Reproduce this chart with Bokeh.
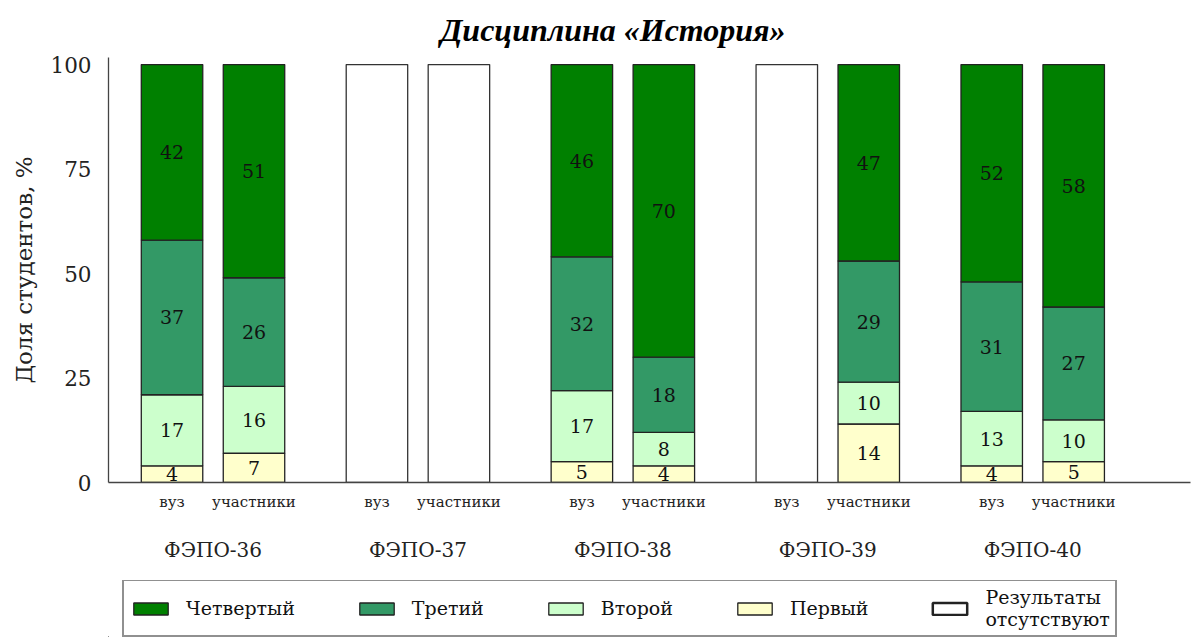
from bokeh.plotting import figure
from bokeh.layouts import column
from bokeh.models import ColumnDataSource, FixedTicker, LinearAxis, Range1d, Legend, LegendItem
from bokeh.core.properties import value
from bokeh.embed import file_html
from bokeh.resources import INLINE

chart_title = "Дисциплина «История»"
y_label = "Доля студентов, %"
groups = ["ФЭПО-36", "ФЭПО-37", "ФЭПО-38", "ФЭПО-39", "ФЭПО-40"]
subs = ["вуз", "участники"]
series_names = ["Первый", "Второй", "Третий", "Четвертый"]
first = [4, 7, None, None, 5, 4, None, 14, 4, 5]
second = [17, 16, None, None, 17, 8, None, 10, 13, 10]
third = [37, 26, None, None, 32, 18, None, 29, 31, 27]
fourth = [42, 51, None, None, 46, 70, None, 47, 52, 58]
missing_label = "Результаты\nотсутствуют"
missing_total = 100
yticks = [0, 25, 50, 75, 100]

colors = ["#ffffcc", "#ccffcc", "#339966", "#008000"]
series = [first, second, third, fourth]

SERIF = "DejaVu Serif"

# bar centre positions (2 units apart inside a group, groups 5 units apart)
xs = [5 * g + (2 * s - 1) for g in range(len(groups)) for s in range(len(subs))]
sub_labels = [subs[s] for g in range(len(groups)) for s in range(len(subs))]

p = figure(frame_width=1082, frame_height=425, output_backend="svg", toolbar_location=None,
           x_range=Range1d(-2.55, 23.85), y_range=Range1d(0, 101.7),
           min_border_left=108, min_border_right=3, min_border_top=57, min_border_bottom=98)
p.xaxis.visible = False
p.xgrid.visible = False
p.ygrid.visible = False
p.outline_line_color = None
p.background_fill_color = "white"

p.title.text = chart_title
p.title.align = "left"
p.title.offset = 332
p.title.text_font = "Liberation Serif"
p.title.text_font_style = "bold italic"
p.title.text_font_size = "32px"
p.title.text_color = "#000000"
p.title.standoff = 19

# y axis
ya = p.yaxis[0]
ya.ticker = FixedTicker(ticks=yticks)
ya.axis_label = y_label
ya.axis_label_text_font = SERIF
ya.axis_label_text_font_style = "normal"
ya.axis_label_text_font_size = "23px"
ya.axis_label_text_color = "#222222"
ya.axis_label_standoff = 10
ya.major_label_text_font = SERIF
ya.major_label_text_font_size = "21.5px"
ya.major_label_text_color = "#222222"
ya.major_tick_line_color = None
ya.minor_tick_line_color = None
ya.axis_line_color = "#444444"
ya.axis_line_width = 1.3
ya.major_label_standoff = 11

# x axis with sub labels
xa = LinearAxis(ticker=FixedTicker(ticks=xs),
                major_label_overrides={x: lab for x, lab in zip(xs, sub_labels)})
xa.major_tick_line_color = None
xa.minor_tick_line_color = None
xa.axis_line_color = "#444444"
xa.axis_line_width = 1.3
xa.major_label_text_font = SERIF
xa.major_label_text_font_size = "15px"
xa.major_label_text_color = "#222222"
xa.major_label_standoff = 4
p.add_layout(xa, "below")

gx = [5 * g for g in range(len(groups))]
ga = LinearAxis(ticker=FixedTicker(ticks=gx),
                major_label_overrides={x: lab for x, lab in zip(gx, groups)})
ga.major_tick_line_color = None
ga.minor_tick_line_color = None
ga.axis_line_color = None
ga.major_label_text_font = SERIF
ga.major_label_text_font_size = "20px"
ga.major_label_text_color = "#222222"
ga.major_label_standoff = 18
p.add_layout(ga, "below")

bottoms = [0] * len(xs)
for name, vals, col in zip(series_names, series, colors):
    bx, bb, bt, ty, tt = [], [], [], [], []
    for i, v in enumerate(vals):
        if v is None:
            continue
        bx.append(xs[i]); bb.append(bottoms[i]); bt.append(bottoms[i] + v)
        ty.append(bottoms[i] + v / 2); tt.append(str(v))
        bottoms[i] += v
    src = ColumnDataSource(dict(x=bx, bottom=bb, top=bt, ty=ty, t=tt))
    p.vbar(x="x", bottom="bottom", top="top", width=1.5, source=src,
           fill_color=col, line_color="#222222", line_width=1.3)
    p.text(x="x", y="ty", text="t", source=src, text_align="center",
           text_baseline="middle", text_font=value(SERIF), text_font_size="19px",
           text_color="#111111")

mx = [xs[i] for i in range(len(xs)) if fourth[i] is None]
msrc = ColumnDataSource(dict(x=mx, bottom=[0] * len(mx), top=[missing_total] * len(mx)))
p.vbar(x="x", bottom="bottom", top="top", width=1.5, source=msrc,
       fill_color="white", line_color="#333333", line_width=1.3)

# legend strip below the chart (proxy glyphs lie outside its visible range)
lf = figure(width=1193, height=57, output_backend="svg", toolbar_location=None,
            x_axis_location=None, y_axis_location=None, min_border=0,
            x_range=Range1d(0, 1), y_range=Range1d(0, 1))
lf.xgrid.visible = False
lf.ygrid.visible = False
lf.outline_line_color = None

items = []
for name, col in reversed(list(zip(series_names, colors))):
    r = lf.vbar(x=[-50], bottom=[-50], top=[-49], width=0.1, fill_color=col,
                line_color="#222222", line_width=1.3)
    items.append(LegendItem(label=name, renderers=[r]))
mr = lf.vbar(x=[-50], bottom=[-50], top=[-49], width=0.1, fill_color="white",
             line_color="#222222", line_width=2.5)
items.append(LegendItem(label=missing_label, renderers=[mr]))

legend = Legend(items=items, orientation="horizontal", location=(14, 0))
legend.border_line_color = "#222222"
legend.border_line_width = 2
legend.label_text_font = SERIF
legend.label_text_font_size = "19px"
legend.label_text_color = "#111111"
legend.glyph_width = 43
legend.glyph_height = 15
legend.label_standoff = 14
legend.spacing = 60
legend.padding = 5
legend.margin = 0
lf.add_layout(legend, "center")

layout = column(p, lf, spacing=0)
open("out.html", "w").write(file_html(layout, INLINE))
